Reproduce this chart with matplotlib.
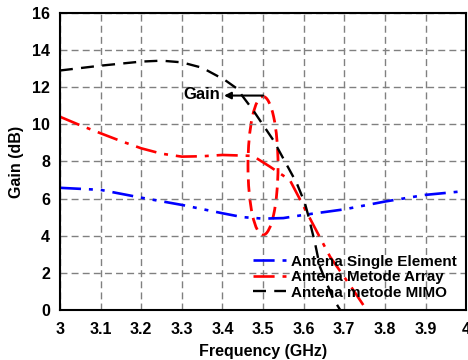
import numpy as np
import matplotlib
matplotlib.use("Agg")
import matplotlib.pyplot as plt
from matplotlib.patches import Ellipse

plt.rcParams["font.family"] = ["Liberation Sans", "DejaVu Sans"]
plt.rcParams["font.weight"] = "bold"

# ---- gain curves (GHz, dB) ----
f_single = [3.0, 3.1, 3.2, 3.3, 3.4, 3.45, 3.5, 3.55, 3.6, 3.7, 3.8, 3.9, 4.0]
g_single = [6.58, 6.47, 6.05, 5.66, 5.21, 5.0, 4.92, 4.95, 5.12, 5.42, 5.84, 6.2, 6.41]

f_array = [3.0, 3.05, 3.1, 3.15, 3.2, 3.25, 3.3, 3.35, 3.4, 3.475,
           3.517, 3.566, 3.611, 3.665, 3.722, 3.755]
g_array = [10.41, 9.95, 9.52, 9.1, 8.71, 8.42, 8.26, 8.28, 8.35, 8.3,
           7.72, 7.0, 5.12, 2.87, 1.08, 0.0]

f_mimo = [3.0, 3.1, 3.2, 3.25, 3.3, 3.35, 3.406, 3.435, 3.475, 3.525,
          3.583, 3.603, 3.611, 3.628, 3.64, 3.657, 3.672, 3.69]
g_mimo = [12.9, 13.16, 13.38, 13.43, 13.34, 13.05, 12.39, 11.94, 10.78, 9.16,
          6.83, 5.76, 5.12, 3.6, 2.33, 1.44, 0.64, 0.0]

labels = ["Antena Single Element", "Antena Metode Array", "Antena metode MIMO"]

xticks = [3.0, 3.1, 3.2, 3.3, 3.4, 3.5, 3.6, 3.7, 3.8, 3.9, 4.0]
xticklabels = ["3", "3.1", "3.2", "3.3", "3.4", "3.5", "3.6", "3.7", "3.8", "3.9", "4"]
yticks = [0, 2, 4, 6, 8, 10, 12, 14, 16]

fig = plt.figure(figsize=(4.68, 3.6), dpi=100)
ax = fig.add_axes([0.128, 0.139, 0.868, 0.825])

ax.plot(f_single, g_single, color="blue", lw=1.9,
        linestyle=(0, (8, 3, 1.5, 3, 1.5, 3)), label=labels[0])
ax.plot(f_array, g_array, color="red", lw=1.9,
        linestyle=(0, (8, 3, 1.5, 3)), label=labels[1])
ax.plot(f_mimo, g_mimo, color="black", lw=1.7,
        linestyle=(0, (5.5, 3.5)), label=labels[2])

# marker around the 3.5 GHz region
ax.add_patch(Ellipse((3.5, 7.77), 0.074, 7.46, fill=False, edgecolor="red",
                     lw=2, linestyle=(0, (4.5, 2.5))))
ax.annotate("", xy=(3.404, 11.55), xytext=(3.5, 11.55),
            arrowprops=dict(arrowstyle="-|>", color="black", lw=1.5,
                            shrinkA=0, shrinkB=0, mutation_scale=10))
ax.text(3.394, 11.6, "Gain", ha="right", va="center", fontsize=12,
        fontweight="bold")

ax.set_xlim(3.0, 4.0)
ax.set_ylim(0, 16)
ax.set_xticks(xticks)
ax.set_xticklabels(xticklabels)
ax.set_yticks(yticks)
ax.tick_params(length=0, labelsize=11.5)
ax.tick_params(axis="x", pad=9)
ax.tick_params(axis="y", pad=7)
for lab in ax.get_xticklabels() + ax.get_yticklabels():
    lab.set_fontweight("bold")

ax.grid(True, color="#808080", linestyle=(0, (5, 3)), lw=1)
for sp in ax.spines.values():
    sp.set_linewidth(1.5)

ax.set_xlabel("Frequency (GHz)", fontsize=11.5, fontweight="bold", labelpad=5)
ax.set_ylabel("Gain (dB)", fontsize=11.5, fontweight="bold", labelpad=6)

leg = ax.legend(loc="lower left", bbox_to_anchor=(0.475, 0.035), frameon=False,
                fontsize=11, handlelength=2.2, handletextpad=0.3,
                labelspacing=0.1, borderpad=0, borderaxespad=0)
for t in leg.get_texts():
    t.set_fontweight("bold")

fig.savefig("out.png", dpi=100)
